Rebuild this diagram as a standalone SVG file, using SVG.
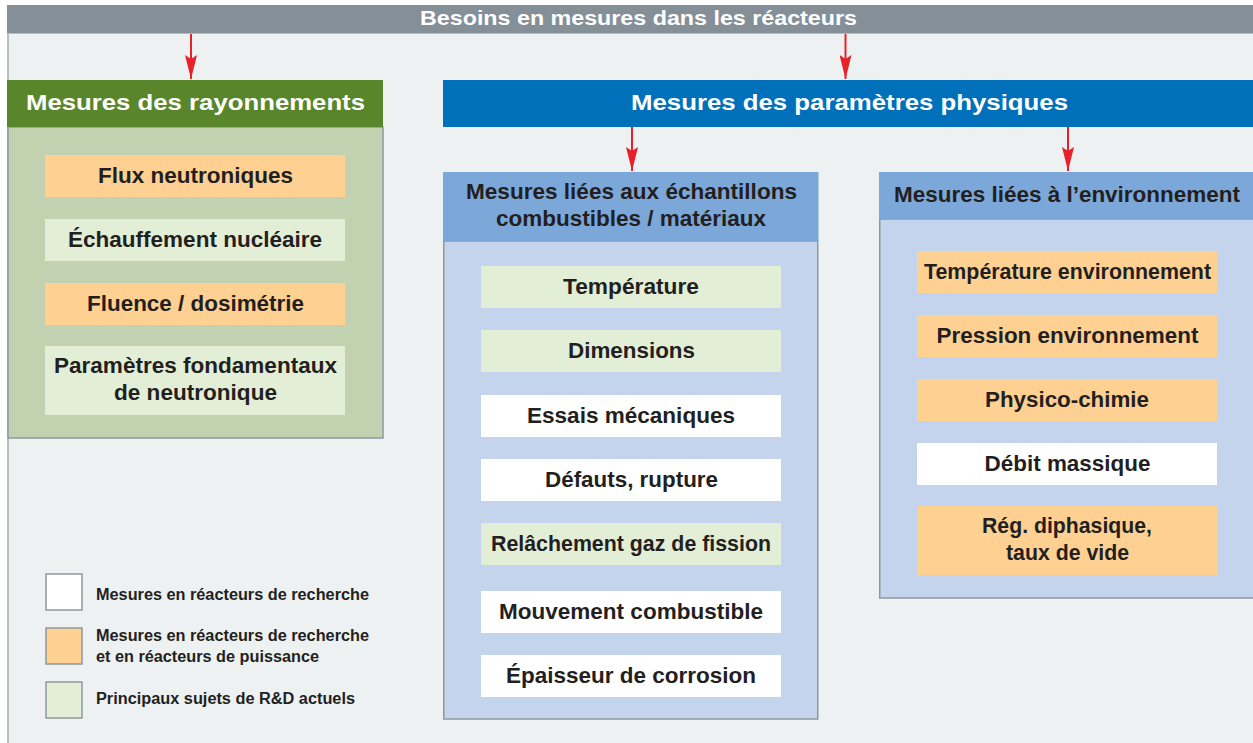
<svg xmlns="http://www.w3.org/2000/svg" width="1253" height="743" viewBox="0 0 1253 743">
<defs>
<marker id="ah" markerWidth="24" markerHeight="12" refX="24" refY="6" orient="auto" markerUnits="userSpaceOnUse" viewBox="0 0 24 12">
<path d="M0,0 L24,6 L0,12 L4,6 z" fill="#e8202a"/>
</marker>
<style>
text{font-family:"Liberation Sans",Arial,Helvetica,sans-serif;font-weight:bold;text-anchor:middle}
.it{font-size:21.5px;fill:#231f20}
.hd{font-size:22.5px;fill:#fff}
.sh{font-size:21.5px;fill:#231f20}
.lg{font-size:16px;fill:#231f20;text-anchor:start}
.or{fill:#fed192}
.lgr{fill:#e3eed6}
.wh{fill:#ffffff}
.pan{stroke:#8d989e;stroke-width:1.5}
.con{stroke:#e8202a;stroke-width:2;fill:none;marker-end:url(#ah)}
.lbox{stroke:#8d989e;stroke-width:1.5}
</style>
</defs>
<rect x="0" y="0" width="1253" height="743" fill="#ffffff"/>
<rect x="8" y="34" width="1245" height="709" fill="#edf1f2"/>
<line x1="8" y1="34" x2="8" y2="743" stroke="#a3acb2" stroke-width="1.5"/>

<g id="top">
<rect x="7" y="5" width="1246" height="28" fill="#848f97"/>
<line x1="7" y1="33.5" x2="1253" y2="33.5" stroke="#b3bcc1" stroke-width="1.2"/>
<text x="638.5" y="25" class="hd" style="font-size:21px" textLength="437" lengthAdjust="spacingAndGlyphs">Besoins en mesures dans les réacteurs</text>
</g>

<g id="connectors">
<line class="con" x1="191" y1="34" x2="191" y2="79"/>
<line class="con" x1="845.5" y1="34" x2="845.5" y2="79"/>
<line class="con" x1="632" y1="127" x2="632" y2="171"/>
<line class="con" x1="1068" y1="127" x2="1068" y2="171"/>
</g>

<g id="rayonnements">
<rect x="8" y="127" width="375" height="311" fill="#c2d1b0" class="pan"/>
<rect x="7" y="80" width="376" height="47" fill="#5a862b"/>
<text x="195.5" y="110" class="hd" textLength="339" lengthAdjust="spacingAndGlyphs">Mesures des rayonnements</text>
</g>
<g id="flux"><rect x="45" y="155" width="300" height="42" class="or"/><text x="195.5" y="182.5" class="it" textLength="195" lengthAdjust="spacingAndGlyphs">Flux neutroniques</text></g>
<g id="echauffement"><rect x="45" y="219" width="300" height="42" class="lgr"/><text x="195" y="246.5" class="it" textLength="254" lengthAdjust="spacingAndGlyphs">Échauffement nucléaire</text></g>
<g id="fluence"><rect x="45" y="283" width="300" height="42" class="or"/><text x="195.5" y="310.5" class="it" textLength="217" lengthAdjust="spacingAndGlyphs">Fluence / dosimétrie</text></g>
<g id="parametres-fond"><rect x="45" y="346" width="300" height="69" class="lgr"/><text x="195.5" y="373" class="it" textLength="283" lengthAdjust="spacingAndGlyphs">Paramètres fondamentaux</text><text x="195.5" y="400" class="it" textLength="163" lengthAdjust="spacingAndGlyphs">de neutronique</text></g>

<g id="physiques">
<rect x="443" y="80" width="810" height="47" fill="#0070bb"/>
<text x="849.5" y="110" class="hd" textLength="437" lengthAdjust="spacingAndGlyphs">Mesures des paramètres physiques</text>
</g>

<g id="echantillons">
<rect x="443.75" y="241" width="374" height="478" fill="#c5d4ed" class="pan"/>
<rect x="443" y="172" width="375.5" height="69" fill="#7ba7d9"/>
<text x="631.5" y="199" class="sh" textLength="331" lengthAdjust="spacingAndGlyphs">Mesures liées aux échantillons</text>
<text x="631" y="226" class="sh" textLength="270" lengthAdjust="spacingAndGlyphs">combustibles / matériaux</text>
</g>
<g id="temperature"><rect x="481" y="266" width="300" height="42" class="lgr"/><text x="631" y="294" class="it" textLength="136" lengthAdjust="spacingAndGlyphs">Température</text></g>
<g id="dimensions"><rect x="481" y="330" width="300" height="42" class="lgr"/><text x="631.5" y="358" class="it" textLength="127" lengthAdjust="spacingAndGlyphs">Dimensions</text></g>
<g id="essais"><rect x="481" y="395" width="300" height="42" class="wh"/><text x="631" y="422.5" class="it" textLength="208" lengthAdjust="spacingAndGlyphs">Essais mécaniques</text></g>
<g id="defauts"><rect x="481" y="459" width="300" height="42" class="wh"/><text x="631.5" y="486.5" class="it" textLength="173" lengthAdjust="spacingAndGlyphs">Défauts, rupture</text></g>
<g id="relachement"><rect x="481" y="523" width="300" height="42" class="lgr"/><text x="631" y="550.5" class="it" textLength="280" lengthAdjust="spacingAndGlyphs">Relâchement gaz de fission</text></g>
<g id="mouvement"><rect x="481" y="591" width="300" height="42" class="wh"/><text x="631" y="618.5" class="it" textLength="264" lengthAdjust="spacingAndGlyphs">Mouvement combustible</text></g>
<g id="epaisseur"><rect x="481" y="655" width="300" height="42" class="wh"/><text x="631" y="682.5" class="it" textLength="250" lengthAdjust="spacingAndGlyphs">Épaisseur de corrosion</text></g>

<g id="environnement">
<rect x="879.75" y="219" width="380" height="379" fill="#c5d4ed" class="pan"/>
<rect x="879" y="172" width="374" height="47" fill="#7ba7d9"/>
<text x="1067" y="202" class="sh" textLength="346" lengthAdjust="spacingAndGlyphs">Mesures liées à l’environnement</text>
</g>
<g id="temp-env"><rect x="917" y="251" width="300" height="42" class="or"/><text x="1067.5" y="278.5" class="it" textLength="287" lengthAdjust="spacingAndGlyphs">Température environnement</text></g>
<g id="pression"><rect x="917" y="315" width="300" height="42" class="or"/><text x="1067.5" y="342.5" class="it" textLength="262" lengthAdjust="spacingAndGlyphs">Pression environnement</text></g>
<g id="physico"><rect x="917" y="379" width="300" height="42" class="or"/><text x="1067" y="406.5" class="it" textLength="164" lengthAdjust="spacingAndGlyphs">Physico-chimie</text></g>
<g id="debit"><rect x="917" y="443" width="300" height="42" class="wh"/><text x="1067.5" y="470.5" class="it" textLength="166" lengthAdjust="spacingAndGlyphs">Débit massique</text></g>
<g id="diphasique"><rect x="917" y="506" width="300" height="69" class="or"/><text x="1067" y="533" class="it" textLength="170" lengthAdjust="spacingAndGlyphs">Rég. diphasique,</text><text x="1067.5" y="560" class="it" textLength="123" lengthAdjust="spacingAndGlyphs">taux de vide</text></g>

<g id="legend">
<rect x="46" y="574" width="36" height="36" class="wh lbox"/>
<text x="96" y="600" class="lg" textLength="273" lengthAdjust="spacingAndGlyphs">Mesures en réacteurs de recherche</text>
<rect x="46" y="628" width="36" height="36" class="or lbox"/>
<text x="96" y="641" class="lg" textLength="273" lengthAdjust="spacingAndGlyphs">Mesures en réacteurs de recherche</text>
<text x="96" y="662" class="lg" textLength="223" lengthAdjust="spacingAndGlyphs">et en réacteurs de puissance</text>
<rect x="46" y="682" width="36" height="36" class="lgr lbox"/>
<text x="96" y="704" class="lg" textLength="259" lengthAdjust="spacingAndGlyphs">Principaux sujets de R&amp;D actuels</text>
</g>
</svg>
